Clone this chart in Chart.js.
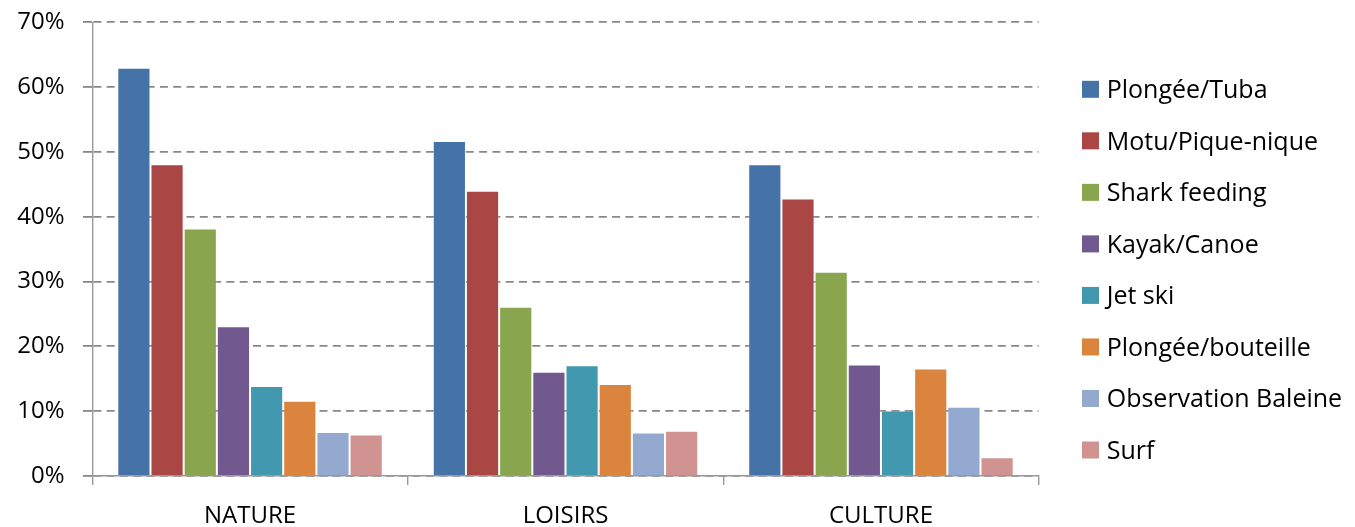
<!DOCTYPE html>
<html>
<head>
<meta charset="utf-8">
<script src="https://cdn.jsdelivr.net/npm/chart.js@4"></script>
<style>
  html, body { margin: 0; padding: 0; background: #ffffff; }
  #wrap { width: 1355px; height: 527px; }
</style>
</head>
<body>
<div id="wrap"><canvas id="chart" width="1355" height="527"></canvas></div>
<script>
// Activity categories and share of respondents per activity (%)
const categories = ['NATURE', 'LOISIRS', 'CULTURE'];
const seriesNames = [
  'Plongée/Tuba', 'Motu/Pique-nique', 'Shark feeding', 'Kayak/Canoe',
  'Jet ski', 'Plongée/bouteille', 'Observation Baleine', 'Surf'
];
const plongeeTuba = [63.0, 51.7, 48.1];
const motuPiqueNique = [48.1, 44.0, 42.8];
const sharkFeeding = [38.2, 26.1, 31.5];
const kayakCanoe = [23.1, 16.1, 17.2];
const jetSki = [13.9, 17.1, 10.1];
const plongeeBouteille = [11.6, 14.2, 16.6];
const observationBaleine = [6.8, 6.7, 10.7];
const surf = [6.4, 7.0, 2.9];
const yTicks = [0, 10, 20, 30, 40, 50, 60, 70];

const seriesValues = [plongeeTuba, motuPiqueNique, sharkFeeding, kayakCanoe,
  jetSki, plongeeBouteille, observationBaleine, surf];
const seriesColors = ['#4572A7', '#AA4643', '#89A54E', '#71588F',
  '#4198AF', '#DB843D', '#93A9CF', '#D19392'];

const FONT = '"Open Sans", "Noto Sans", sans-serif';

// Legend drawn at the right of the plot, one row per series
const sideLegend = {
  id: 'sideLegend',
  afterDraw(chart) {
    const ctx = chart.ctx;
    const size = 25;
    ctx.save();
    ctx.font = size + 'px ' + FONT;
    ctx.textAlign = 'left';
    ctx.textBaseline = 'alphabetic';
    chart.data.datasets.forEach((ds, i) => {
      const cy = 89.3 + i * 51.53;
      ctx.fillStyle = ds.backgroundColor;
      ctx.fillRect(1082, cy - 8.5, 17, 17);
      ctx.fillStyle = '#000000';
      ctx.fillText(ds.label, 1106.7, cy + size * 0.357);
    });
    ctx.restore();
  }
};

new Chart(document.getElementById('chart'), {
  type: 'bar',
  data: {
    labels: categories,
    datasets: seriesNames.map((name, i) => ({
      label: name,
      data: seriesValues[i],
      backgroundColor: seriesColors[i],
      borderColor: 'rgba(255,255,255,0.22)',
      borderWidth: 1,
      categoryPercentage: 0.8415,
      barPercentage: 1.0
    }))
  },
  options: {
    responsive: false,
    animation: false,
    devicePixelRatio: 1,
    layout: { padding: { top: 22.3, right: 316.3, left: 0, bottom: 0 } },
    plugins: {
      legend: { display: false },
      tooltip: { enabled: false }
    },
    scales: {
      x: {
        afterFit(scale) { scale.height = 51; scale.paddingLeft = 0; scale.paddingRight = 0; },
        grid: {
          offset: true,
          drawOnChartArea: false,
          drawTicks: true,
          tickLength: 9,
          color: '#999999',
          lineWidth: 1.4
        },
        border: { display: true, color: '#999999', width: 1.4 },
        ticks: {
          color: '#000000',
          padding: 17,
          maxRotation: 0,
          font: { family: FONT, size: 24 }
        }
      },
      y: {
        min: 0,
        max: 70,
        afterFit(scale) { scale.width = 92.3; scale.paddingTop = 0; scale.paddingBottom = 0; },
        afterBuildTicks(scale) { scale.ticks = yTicks.map(v => ({ value: v })); },
        grid: {
          color: '#888888',
          lineWidth: 1.8,
          tickLength: 9.4,
          tickBorderDash: []
        },
        border: { display: true, color: '#999999', width: 1.4, dash: [8, 5.3] },
        ticks: {
          color: '#000000',
          padding: 18.3,
          font: { family: FONT, size: 24 },
          callback: v => v + '%'
        }
      }
    }
  },
  plugins: [sideLegend]
});
</script>
</body>
</html>
